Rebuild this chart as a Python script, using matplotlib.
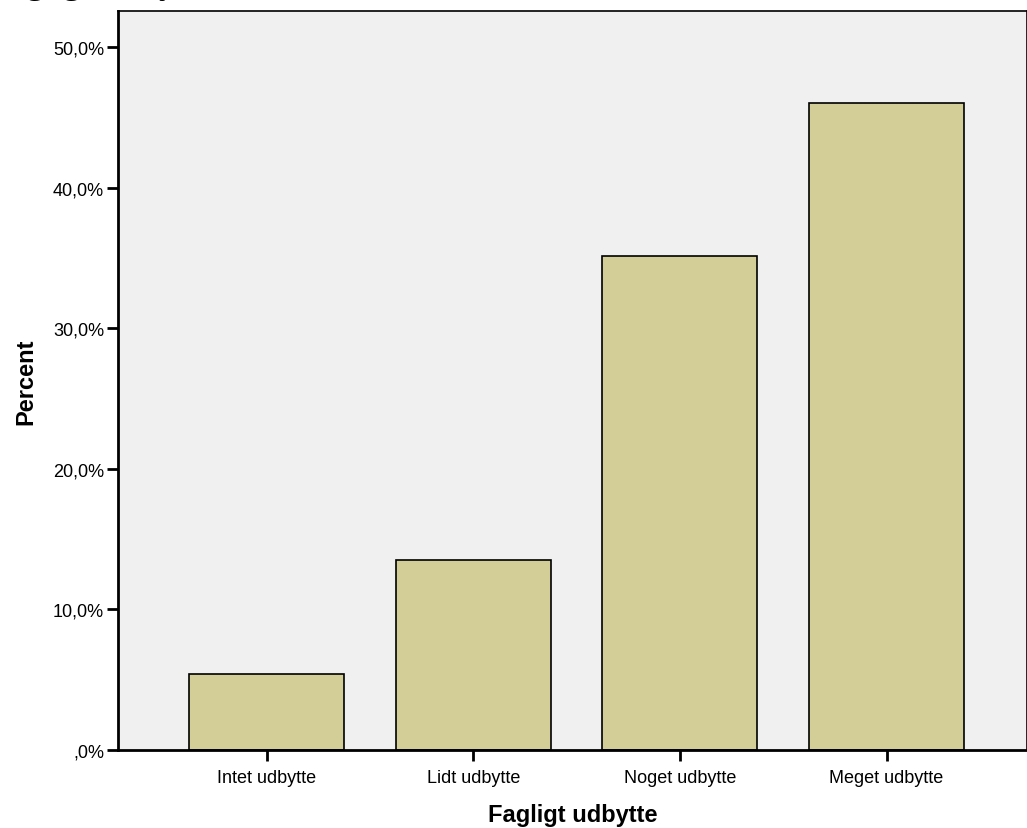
import matplotlib
matplotlib.use("Agg")
import matplotlib.pyplot as plt
from matplotlib.ticker import FuncFormatter

# Fagligt udbytte - percent per category
categories = ["Intet udbytte", "Lidt udbytte", "Noget udbytte", "Meget udbytte"]
percents = [5.4, 13.5, 35.1, 46.0]
yticks = [0, 10, 20, 30, 40, 50]

plt.rcParams['font.family'] = ['Liberation Sans', 'DejaVu Sans']

fig = plt.figure(figsize=(10.27, 8.29), dpi=100)
ax = fig.add_axes([118 / 1027, 78 / 829, (1027 - 118) / 1027, (751 - 12) / 829])
ax.set_facecolor('#f0f0f0')

x = list(range(len(categories)))
ax.bar(x, percents, width=0.75, color='#d3ce98', edgecolor='black', linewidth=1.2, zorder=2)

ax.set_xlim(-0.72, 3.68)
ax.set_ylim(0, 52.56)
ax.set_xticks(x)
ax.set_xticklabels(categories, fontsize=13)
ax.set_yticks(yticks)

def pct(v, pos):
    s = "%.1f%%" % v
    s = s.replace(".", ",")
    if s.startswith("0,"):
        s = s[1:]
    return s

ax.yaxis.set_major_formatter(FuncFormatter(pct))
ax.tick_params(axis='both', direction='out', length=8, width=2, labelsize=13, pad=2)
ax.tick_params(axis='x', pad=6)

for sp in ax.spines.values():
    sp.set_linewidth(1.2)
ax.spines['left'].set_linewidth(2)
ax.spines['bottom'].set_linewidth(2)

ax.set_xlabel("Fagligt udbytte", fontsize=17, fontweight='bold', labelpad=12)
ax.set_ylabel("Percent", fontsize=17, fontweight='bold', labelpad=11)

# cropped title at the top edge, only the descenders show
fig.text(-12 / 1027, 1 + 7 / 829, "Fagligt udbytte", fontsize=25, fontweight='bold',
         family=['Liberation Serif'], va='baseline', ha='left')

fig.savefig("out.png", dpi=100)
